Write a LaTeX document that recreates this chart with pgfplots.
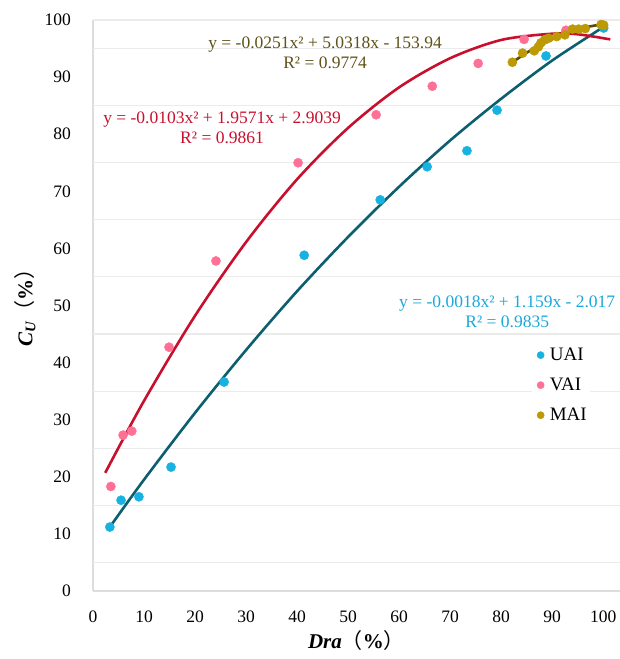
\documentclass[border=0pt]{standalone}
\usepackage{fontspec}
\setmainfont{Liberation Serif}
\newfontfamily\cjk{Noto Sans CJK SC}
\usepackage{pgfplots}
\pgfplotsset{compat=1.18}
\usetikzlibrary{calc}
\definecolor{uaiM}{HTML}{17B2E0}
\definecolor{uaiL}{HTML}{0B5F6F}
\definecolor{uaiT}{HTML}{1AA8DA}
\definecolor{vaiM}{HTML}{FF7096}
\definecolor{vaiL}{HTML}{C8102E}
\definecolor{maiM}{HTML}{BD9A05}
\definecolor{maiL}{HTML}{5B4A08}
\definecolor{maiT}{HTML}{5E5218}
\definecolor{gridgray}{HTML}{EBEBEB}
\definecolor{axgray}{HTML}{DDDDDD}
\begin{document}
\begin{tikzpicture}
\begin{axis}[
  scale only axis, width=527pt, height=571pt,
  xmin=0, xmax=103.3, ymin=0, ymax=100,
  axis x line*=bottom, axis y line*=left,
  axis line style={draw=axgray, line width=1.2pt, -},
  xtick={0,10,...,100}, ytick={0,10,...,100},
  major tick length=0pt,
  tick style={draw=none},
  tick label style={font=\fontsize{17.5}{17.5}\selectfont},
  /pgf/number format/assume math mode=true,
  xticklabel style={inner sep=0pt, anchor=north, yshift=-20pt},
  yticklabel style={inner sep=0pt, anchor=east, xshift=-22pt},
  extra y ticks={5,15,...,95,100},
  extra y tick labels={},
  extra y tick style={grid=major, major grid style={draw=gridgray, line width=1.1pt}, tick style={draw=none}},
  clip=false,
  xlabel={{\bfseries\itshape Dra}{\cjk （}{\bfseries\%}{\cjk ）}},
  xlabel style={font=\fontsize{21}{21}\selectfont, anchor=center, at={(axis description cs:0.5,-0.087)}},
  ylabel={{\bfseries\itshape C\textsubscript{U}}{\cjk （}{\bfseries\%}{\cjk ）}},
  ylabel style={font=\fontsize{21}{21}\selectfont, anchor=center, at={(axis description cs:-0.129,0.505)}},
  legend style={at={(axis cs:86.1,43.1)}, anchor=north west, draw=none, fill=white,
    font=\fontsize{19}{19}\selectfont, row sep=14pt, inner sep=2pt,
    nodes={inner sep=1pt}},
  legend cell align=left,
  legend image code/.code={\path (-6pt,0) (8pt,0); \draw[#1,mark size=3.6pt] plot coordinates {(0pt,0pt)};},
]
\coordinate (SW) at (rel axis cs:0,0);
\coordinate (NE) at (rel axis cs:1,1);

% UAI points
\addplot[only marks, mark=*, mark size=4.6pt, color=uaiM, mark options={draw=none, fill=uaiM}] coordinates {
 (3.3,11.2) (5.5,15.9) (9.0,16.5) (15.3,21.7) (25.7,36.6) (41.4,58.8)
 (56.3,68.5) (65.5,74.3) (73.3,77.1) (79.2,84.2) (88.8,93.7) (100.1,98.6)
};
\addlegendentry{UAI}
% VAI points
\addplot[only marks, mark=*, mark size=4.6pt, color=vaiM, mark options={draw=none, fill=vaiM}] coordinates {
 (3.5,18.3) (5.9,27.3) (7.6,28.0) (14.9,42.7) (24.1,57.8) (40.2,75.0)
 (55.5,83.4) (66.5,88.4) (75.5,92.4) (84.5,96.6) (92.7,98.2)
};
\addlegendentry{VAI}
% MAI points
\addplot[only marks, mark=*, mark size=4.6pt, color=maiM, mark options={draw=none, fill=maiM}] coordinates {
 (82.2,92.6) (84.2,94.2) (86.5,94.6) (87.3,95.3) (87.8,96.0) (88.5,96.5)
 (89.3,96.8) (90.9,97.1) (92.5,97.4) (94.0,98.4) (95.2,98.4) (96.5,98.5)
 (99.6,99.2) (100.1,99.1)
};
\addlegendentry{MAI}

% trend lines
\addplot[forget plot, smooth, no marks, color=uaiL, line width=2.6pt] coordinates {
 (3.3,11.2) (10,19.5) (20,31.2) (30,42.2) (40,52.5) (50,62.0) (60,70.8)
 (70,78.9) (80,86.2) (90,92.9) (100.1,98.8)
};
\addplot[forget plot, smooth, no marks, color=vaiL, line width=2.6pt] coordinates {
 (2.4,20.7) (10,33.3) (20,48.2) (30,61.1) (40,72.1) (50,81.1) (60,88.2)
 (70,93.3) (80,96.5) (90,97.6) (95,97.5) (101.4,96.6)
};
\addplot[forget plot, smooth, no marks, color=maiL, line width=2.6pt] coordinates {
 (82.2,92.6) (86,94.8) (90.9,97.0) (94,98.0) (97,98.8) (100.3,99.3)
};

% equations
\node[color=maiT, align=center, font=\fontsize{17.5}{20}\selectfont] at (axis cs:45.5,94.2)
  {y = -0.0251x² + 5.0318x - 153.94\\R² = 0.9774};
\node[color=vaiL, align=center, font=\fontsize{17.5}{20}\selectfont] at (axis cs:25.3,81.1)
  {y = -0.0103x² + 1.9571x + 2.9039\\R² = 0.9861};
\node[color=uaiT, align=center, font=\fontsize{17.5}{20}\selectfont] at (axis cs:81.2,48.9)
  {y = -0.0018x² + 1.159x - 2.017\\R² = 0.9835};
\end{axis}
\pgfresetboundingbox
\path ($(SW)+(-93pt,-68pt)$) rectangle ($(NE)+(0pt,20pt)$);
\end{tikzpicture}
\end{document}
